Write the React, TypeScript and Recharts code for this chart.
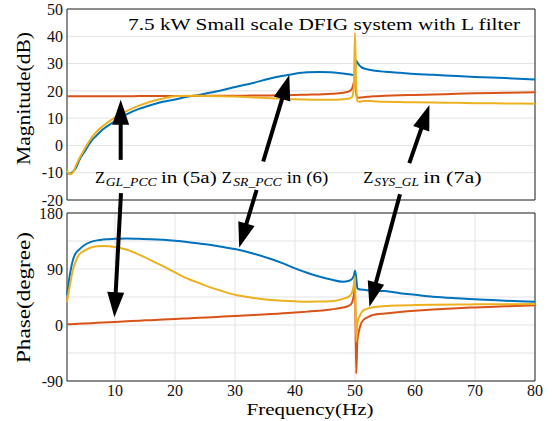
import React from "react";
import { LineChart, Line, XAxis, YAxis, CartesianGrid, ReferenceLine, ReferenceArea } from "recharts";

// frequency points (Hz), denser around the 50 Hz resonance
const freq = [2, 2.5, 3, 3.5, 4, 5, 6, 7, 8, 10, 12, 14, 16, 18, 20, 22, 24, 26, 28, 30, 33, 36, 38, 40, 42, 44, 46, 48, 49, 49.5, 49.8, 50, 50.2, 50.4, 50.7, 51, 51.5, 52, 53, 55, 57.5, 60, 63, 67, 70, 75, 80];

// magnitude (dB)
const srPccMag = [-10.0, -10.4, -9.6, -8.2, -5.6, -2.0, 1.5, 3.8, 5.9, 8.9, 11.5, 13.4, 14.8, 16.0, 16.8, 17.8, 18.5, 19.4, 20.3, 21.4, 22.9, 24.6, 25.5, 26.3, 26.8, 26.9, 26.8, 26.4, 26.1, 25.9, 25.8, 27.5, 31.0, 30.4, 29.4, 28.8, 28.2, 27.9, 27.5, 27.0, 26.6, 26.2, 25.9, 25.4, 25.1, 24.7, 24.2];
const glPccMag = [18.0, 18.0, 18.0, 18.0, 18.0, 18.0, 18.0, 18.0, 18.0, 18.0, 18.0, 18.1, 18.1, 18.1, 18.1, 18.1, 18.2, 18.2, 18.2, 18.2, 18.3, 18.3, 18.4, 18.5, 18.6, 18.7, 18.9, 19.3, 19.8, 20.8, 23.0, 24.0, 19.0, 17.6, 17.5, 17.6, 17.7, 17.8, 18.0, 18.2, 18.4, 18.5, 18.7, 18.9, 19.1, 19.3, 19.5];
const sysGlMag = [-9.2, -10.6, -9.9, -7.3, -5.0, -1.0, 2.5, 5.2, 7.1, 10.3, 12.7, 14.6, 16.1, 17.2, 18.0, 18.2, 18.2, 18.1, 18.0, 17.9, 17.6, 17.3, 17.1, 16.9, 16.8, 16.7, 16.7, 16.9, 17.2, 17.7, 21.0, 41.2, 21.0, 16.3, 16.0, 16.1, 16.3, 16.3, 16.2, 16.0, 15.9, 15.8, 15.7, 15.6, 15.5, 15.4, 15.3];

// phase (degree)
const srPccPh = [48, 82, 105, 116, 121, 129, 133.5, 136, 137.5, 138.5, 139, 138.5, 138, 137, 135.5, 133.5, 131, 128.5, 125.5, 122, 115, 106, 99, 91, 84, 78, 73, 69.5, 71, 74, 79, 87, 76, 59, 57.5, 57, 56.5, 56, 55, 54.5, 51, 48.5, 45.5, 43, 41.5, 39, 37.5];
const glPccPh = [1, 1.2, 1.5, 1.7, 2, 2.5, 3, 3.5, 4, 5, 6, 7, 7.8, 8.7, 9.7, 10.6, 11.5, 12.5, 13.5, 14.5, 16, 17.5, 18.8, 20, 21.5, 23, 25, 28, 31, 36, 48, 64, -78, -25, -8, 2, 9, 12, 16, 18.5, 21, 22.8, 24.8, 27, 28.2, 30, 31.8];
const sysGlPh = [37, 65, 89, 103, 113, 120, 124.5, 126.5, 127, 125.5, 121, 113, 104, 94.5, 84.5, 75, 67.5, 60, 54, 48.5, 43.5, 40, 38.8, 38, 37.5, 37.6, 38.3, 42, 46, 52, 64, 78, -27, 3, 13, 19, 24, 26, 28.5, 30.5, 31.5, 32, 32.5, 33, 33.2, 33.5, 33.8];

const xTicks = [10, 20, 30, 40, 50, 60, 70, 80];
const magTicks = [-20, -10, 0, 10, 20, 30, 40, 50];
const phTicks = [-90, -45, 0, 45, 90, 135, 180];

const magData = freq.map((f, i) => ({ f, sr: srPccMag[i], gl: glPccMag[i], sys: sysGlMag[i] }));
const phData = freq.map((f, i) => ({ f, sr: srPccPh[i], gl: glPccPh[i], sys: sysGlPh[i] }));

// annotation arrows, in data coordinates
const magArrows = [
  [{ x: 10.95, y: -5.3 }, { x: 10.95, y: 16.7 }],
  [{ x: 34.7, y: -5.9 }, { x: 39.05, y: 25.8 }],
  [{ x: 59.05, y: -6.5 }, { x: 62.4, y: 14.8 }],
];
const phArrows = [
  [{ x: 11.0, y: 212 }, { x: 9.9, y: 12.5 }],
  [{ x: 33.6, y: 217 }, { x: 30.7, y: 124.5 }],
  [{ x: 57.5, y: 210 }, { x: 52.4, y: 29.4 }],
];

const BLUE = "#0072BD";
const ORANGE = "#D95319";
const YELLOW = "#EDB120";
const serif = "'Liberation Serif', 'Times New Roman', serif";
const tickStyle = { fontSize: 16, fill: "#111", fontFamily: serif };

const Arrow = (p: any) => {
  const { x1, y1, x2, y2 } = p;
  const dx = x2 - x1;
  const dy = y2 - y1;
  const len = Math.hypot(dx, dy) || 1;
  const ux = dx / len;
  const uy = dy / len;
  const hl = 25;
  const hw = 8.5;
  const bx = x2 - ux * hl;
  const by = y2 - uy * hl;
  const pts = `${x2},${y2} ${bx - uy * hw},${by + ux * hw} ${bx + uy * hw},${by - ux * hw}`;
  return (
    <g>
      <line x1={x1} y1={y1} x2={bx + ux * 2} y2={by + uy * 2} stroke="#000" strokeWidth={4} />
      <polygon points={pts} fill="#000" />
    </g>
  );
};

const notes = [
  { z: 95, sub: "GL_PCC", subX: 105.7, subW: 51, rest: "in (5a)", restX: 161, restW: 55.7 },
  { z: 221.7, sub: "SR_PCC", subX: 233.3, subW: 48.4, rest: "in (6)", restX: 286.7, restW: 41.6 },
  { z: 363.3, sub: "SYS_GL", subX: 374.3, subW: 44.7, rest: "in (7a)", restX: 423.3, restW: 58.4 },
];

export default function App() {
  return (
    <div style={{ position: "absolute", left: 0, top: 0, width: 552, height: 421, background: "#fff" }}>
      <div style={{ position: "absolute", left: 0, top: 0 }}>
        <LineChart width={552} height={210} data={magData} margin={{ top: 9, right: 17, bottom: 10, left: 0 }}>
          <CartesianGrid stroke="#e3e3e3" />
          <XAxis dataKey="f" type="number" domain={[2, 80]} ticks={xTicks} tick={false} tickLine={false} axisLine={false} height={0} />
          <YAxis type="number" domain={[-20, 50]} ticks={magTicks} width={67} interval={0} tickLine={false} axisLine={false} tickSize={2} tickMargin={2} tick={tickStyle} />
          <YAxis yAxisId="r" orientation="right" mirror type="number" domain={[-20, 50]} ticks={magTicks} width={0} axisLine={false} tickSize={5} tickLine={{ stroke: "#262626" }} tickFormatter={() => ""} />
          <Line type="monotone" dataKey="sr" stroke={BLUE} strokeWidth={2} dot={false} isAnimationActive={false} />
          <Line type="monotone" dataKey="gl" stroke={ORANGE} strokeWidth={2} dot={false} isAnimationActive={false} />
          <Line type="monotone" dataKey="sys" stroke={YELLOW} strokeWidth={2} dot={false} isAnimationActive={false} />
          <ReferenceArea x1={2} x2={80} y1={-20} y2={50} fill="none" stroke="#262626" strokeWidth={1} ifOverflow="visible" />
          {magArrows.map((seg, i) => (
            <ReferenceLine key={i} segment={seg} ifOverflow="visible" shape={Arrow} />
          ))}
        </LineChart>
      </div>
      <div style={{ position: "absolute", left: 0, top: 170 }}>
        <LineChart width={552} height={251} data={phData} margin={{ top: 43, right: 17, bottom: 0, left: 0 }}>
          <CartesianGrid stroke="#e3e3e3" />
          <XAxis dataKey="f" type="number" domain={[2, 80]} ticks={xTicks} interval={0} height={40} tickLine={false} axisLine={false} tickSize={2} tickMargin={2} tick={tickStyle} />
          <YAxis type="number" domain={[-90, 180]} ticks={phTicks} width={67} interval={0} tickLine={false} axisLine={false} tickSize={2} tickMargin={2} tick={tickStyle} tickFormatter={(v: number) => (v % 90 === 0 ? String(v) : "")} />
          <YAxis yAxisId="r" orientation="right" mirror type="number" domain={[-90, 180]} ticks={phTicks} width={0} axisLine={false} tickSize={5} tickLine={{ stroke: "#262626" }} tickFormatter={() => ""} />
          <Line type="monotone" dataKey="sr" stroke={BLUE} strokeWidth={2} dot={false} isAnimationActive={false} />
          <Line type="monotone" dataKey="gl" stroke={ORANGE} strokeWidth={2} dot={false} isAnimationActive={false} />
          <Line type="monotone" dataKey="sys" stroke={YELLOW} strokeWidth={2} dot={false} isAnimationActive={false} />
          <ReferenceArea x1={2} x2={80} y1={-90} y2={180} fill="none" stroke="#262626" strokeWidth={1} ifOverflow="visible" />
          {phArrows.map((seg, i) => (
            <ReferenceLine key={i} segment={seg} ifOverflow="visible" shape={Arrow} />
          ))}
        </LineChart>
      </div>
      <svg width={552} height={421} style={{ position: "absolute", left: 0, top: 0, pointerEvents: "none" }} fontFamily={serif} fill="#000">
        <text x={128} y={30} fontSize={17} textLength={392} lengthAdjust="spacingAndGlyphs">
          7.5 kW Small scale DFIG system with L filter
        </text>
        <text transform="translate(30,98.5) rotate(-90)" textAnchor="middle" fontSize={19} textLength={133} lengthAdjust="spacingAndGlyphs">
          Magnitude(dB)
        </text>
        <text transform="translate(30,297.5) rotate(-90)" textAnchor="middle" fontSize={19} textLength={131} lengthAdjust="spacingAndGlyphs">
          Phase(degree)
        </text>
        <text x={310} y={415} textAnchor="middle" fontSize={17} textLength={127} lengthAdjust="spacingAndGlyphs">
          Frequency(Hz)
        </text>
        {notes.map((n) => (
          <g key={n.sub}>
            <text x={n.z} y={183} fontSize={16.5}>Z</text>
            <text x={n.subX} y={186} fontSize={12.5} fontStyle="italic" textLength={n.subW} lengthAdjust="spacingAndGlyphs">
              {n.sub}
            </text>
            <text x={n.restX} y={183} fontSize={16.5} textLength={n.restW} lengthAdjust="spacingAndGlyphs">
              {n.rest}
            </text>
          </g>
        ))}
      </svg>
    </div>
  );
}
